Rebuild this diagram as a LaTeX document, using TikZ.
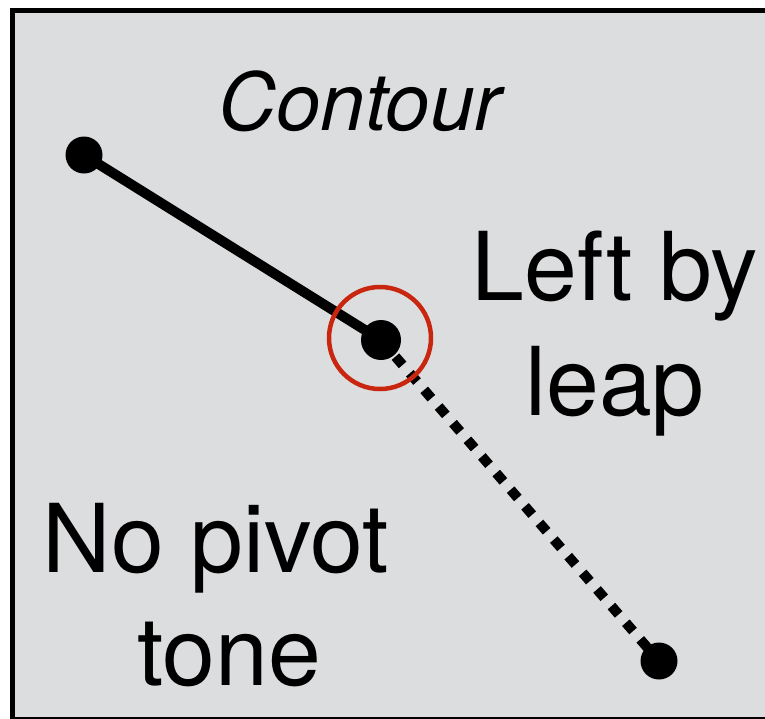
\documentclass[tikz,border=0pt]{standalone}
\usepackage{fontspec}
\setmainfont{TeX Gyre Heros}
\definecolor{panelgray}{HTML}{DCDDDF}
\definecolor{markred}{HTML}{C8260E}
\begin{document}
\begin{tikzpicture}[x=1pt,y=-1pt,
  dot/.style={circle,fill=black,inner sep=0pt,minimum size=#1},
  bigtext/.style={anchor=base,inner sep=0pt,font=\fontsize{95}{115}\selectfont},
  titletext/.style={anchor=base,inner sep=0pt,font=\fontsize{80}{90}\selectfont\itshape}]
\useasboundingbox (0,0) rectangle (765,718);
\begin{scope}
\clip (0,0) rectangle (765,718);
\draw[line width=5pt,fill=panelgray] (12.5,10.5) rectangle (790,719);
\end{scope}
\node[dot=37pt] (a) at (84,155) {};
\node[dot=40pt] (b) at (381,340) {};
\node[dot=37pt] (c) at (659,661) {};
\draw[line width=10pt] (a.center) -- (b.center);
\draw[line width=10pt,dash pattern=on 11pt off 11pt] (b.center) -- (c.center);
\node[circle,draw=markred,line width=4.5pt,minimum size=102pt,inner sep=0pt] (ring) at (380,338) {};
\node[titletext] (contour) at (360,130) {Contour};
\node[bigtext] (left1) at (615,300) {Left by};
\node[bigtext] (left2) at (615,415) {leap};
\node[bigtext] (no1) at (216,572) {No pivot};
\node[bigtext] (no2) at (229,685) {tone};
\end{tikzpicture}
\end{document}
